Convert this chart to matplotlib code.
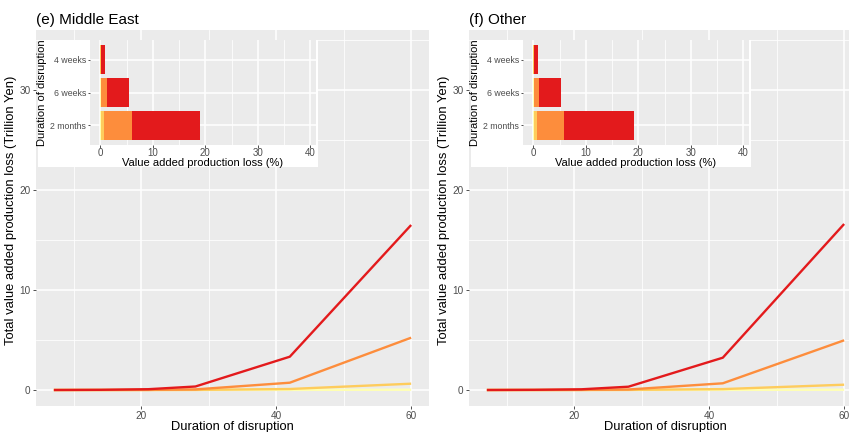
import numpy as np
import matplotlib
matplotlib.use('Agg')
import matplotlib.pyplot as plt
from matplotlib.patches import Rectangle
from matplotlib.ticker import MultipleLocator

plt.rcParams['font.family'] = ['Liberation Sans', 'DejaVu Sans']

# Loss over time (trillion yen) by scenario, x = days of disruption
days = [7, 14, 21, 28, 42, 60]
me_red = [0, 0.02, 0.08, 0.35, 3.33, 16.5]
me_orange = [0, 0.0, 0.01, 0.06, 0.73, 5.23]
me_light = [0, 0, 0, 0.01, 0.10, 0.63]
me_pale = [0, 0, 0, 0, 0.01, 0.03]

ot_red = [0, 0.02, 0.07, 0.33, 3.23, 16.6]
ot_orange = [0, 0.0, 0.01, 0.05, 0.67, 4.97]
ot_light = [0, 0, 0, 0.01, 0.09, 0.53]
ot_pale = [0, 0, 0, 0, 0.01, 0.03]

# Loss as share of value added (%) for the inset bars
periods = ['2 months', '6 weeks', '4 weeks']
me_bar_red = [19.0, 5.5, 0.8]
me_bar_orange = [6.1, 1.15, 0.15]
me_bar_light = [0.73, 0.17, 0.02]
me_bar_pale = [0.05, 0.02, 0.0]

ot_bar_red = [19.1, 5.3, 0.77]
ot_bar_orange = [5.8, 1.1, 0.13]
ot_bar_light = [0.7, 0.15, 0.02]
ot_bar_pale = [0.05, 0.02, 0.0]

colors = ['#FFFFB2', '#FECC5C', '#FD8D3C', '#E31A1C']
panel_bg = '#EBEBEB'
tick_col = '#4D4D4D'

W, H = 849, 432
fig = plt.figure(figsize=(W / 100, H / 100), dpi=100)


def px_axes(x0, y0, x1, y1, **kw):
    # axes placed by pixel box (top-left origin)
    return fig.add_axes([x0 / W, 1 - y1 / H, (x1 - x0) / W, (y1 - y0) / H], **kw)


def gg_style(ax, tick_len=2.5, pad=1.5):
    ax.set_facecolor(panel_bg)
    for s in ax.spines.values():
        s.set_visible(False)
    ax.grid(which='major', color='white', lw=1.1)
    ax.grid(which='minor', color='white', lw=0.55)
    ax.set_axisbelow(True)
    ax.tick_params(which='major', length=tick_len, width=0.6, color='#333333',
                   labelcolor=tick_col, pad=pad)
    ax.tick_params(which='minor', length=0)


def draw_panel(x_off, title, lines, bars):
    ax = px_axes(36 + x_off, 30, 429 + x_off, 406)
    gg_style(ax)
    for vals, c in zip(lines, colors):
        ax.plot(days, vals, color=c, lw=1.7, solid_capstyle='butt')
    ax.set_xlim(4.35, 62.65)
    ax.set_ylim(-1.6, 36)
    ax.xaxis.set_major_locator(MultipleLocator(20))
    ax.xaxis.set_minor_locator(MultipleLocator(10))
    ax.yaxis.set_major_locator(MultipleLocator(10))
    ax.yaxis.set_minor_locator(MultipleLocator(5))
    ax.tick_params(labelsize=7.2)
    ax.tick_params(axis='x', pad=1)
    ax.set_xlabel('Duration of disruption', fontsize=9.3, labelpad=0)
    ax.set_ylabel('Total value added production loss (Trillion Yen)', fontsize=9.4)
    ax.yaxis.set_label_coords(-19 / 393, 0.52)
    ax.set_title(title, loc='left', fontsize=11, pad=4)

    # white backdrop behind the inset
    fig.patches.append(Rectangle(((38 + x_off) / W, 1 - 167 / H), 280 / W, 127 / H,
                                 transform=fig.transFigure, facecolor='white',
                                 edgecolor='none', zorder=1))
    ins = px_axes(90 + x_off, 40, 316 + x_off, 145)
    ins.set_zorder(3)
    gg_style(ins, tick_len=1.8, pad=1)
    ypos = np.arange(1, len(periods) + 1)
    for vals, c in zip(bars[::-1], colors[::-1]):
        ins.barh(ypos, vals, height=0.9, color=c, edgecolor='none')
    ins.set_xlim(-2, 41.1)
    ins.set_ylim(0.4, 3.6)
    ins.set_yticks(ypos)
    ins.set_yticklabels(periods)
    ins.xaxis.set_major_locator(MultipleLocator(10))
    ins.xaxis.set_minor_locator(MultipleLocator(5))
    ins.tick_params(axis='x', labelsize=7, pad=0.5)
    ins.tick_params(axis='y', labelsize=6.3)
    ins.set_xlabel('Value added production loss (%)', fontsize=8, labelpad=0)
    ins.set_ylabel('Duration of disruption', fontsize=8, labelpad=2)


draw_panel(0, '(e) Middle East',
           [me_pale, me_light, me_orange, me_red],
           [me_bar_pale, me_bar_light, me_bar_orange, me_bar_red])
draw_panel(433, '(f) Other',
           [ot_pale, ot_light, ot_orange, ot_red],
           [ot_bar_pale, ot_bar_light, ot_bar_orange, ot_bar_red])

fig.savefig('out.png', dpi=100, facecolor='white')
